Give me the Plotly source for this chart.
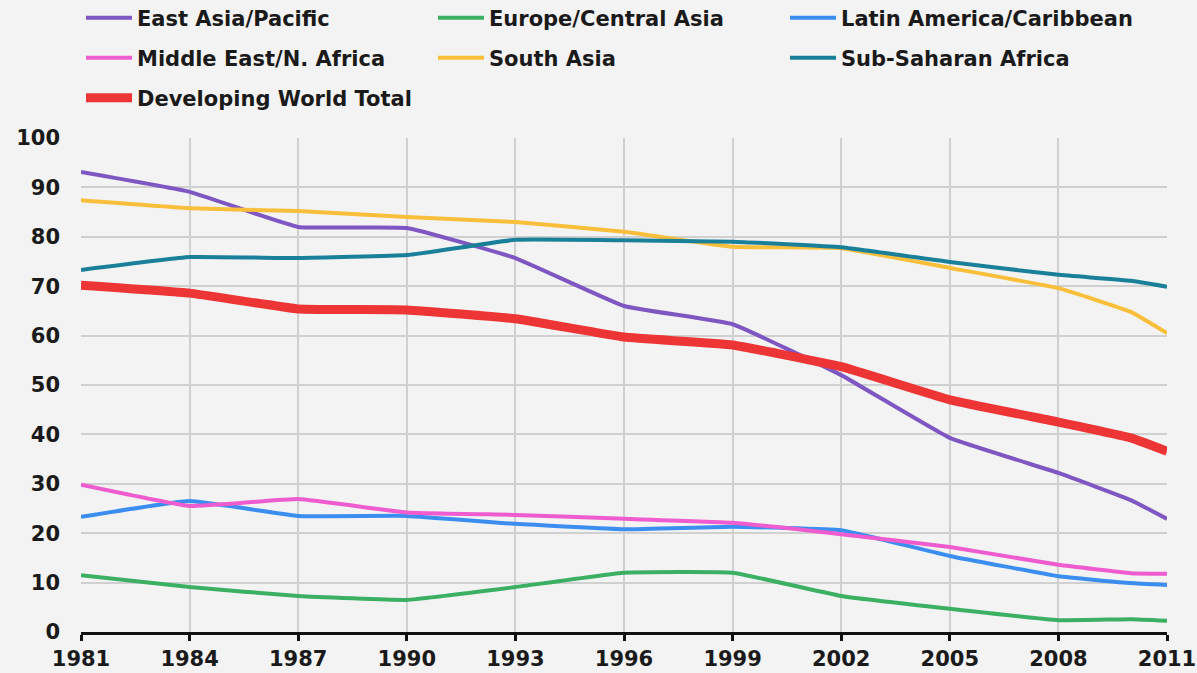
import plotly.graph_objects as go

years = [1981, 1984, 1987, 1990, 1993, 1996, 1999, 2002, 2005, 2008, 2010, 2011]

east_asia = [93.1, 89.1, 82.0, 81.8, 75.7, 66.0, 62.3, 52.0, 39.3, 32.2, 26.7, 22.9]
europe_central_asia = [11.5, 9.1, 7.3, 6.5, 9.1, 12.0, 12.0, 7.3, 4.7, 2.4, 2.6, 2.3]
latin_america = [23.3, 26.5, 23.5, 23.5, 21.9, 20.8, 21.3, 20.6, 15.4, 11.3, 9.9, 9.5]
middle_east = [29.8, 25.5, 26.9, 24.2, 23.7, 22.9, 22.1, 19.8, 17.2, 13.6, 11.9, 11.8]
south_asia = [87.4, 85.8, 85.2, 84.0, 83.0, 81.0, 78.0, 77.7, 73.7, 69.6, 64.8, 60.5]
sub_saharan = [73.3, 75.9, 75.7, 76.3, 79.4, 79.3, 79.0, 77.9, 74.9, 72.3, 71.1, 69.9]
developing_total = [70.2, 68.6, 65.4, 65.2, 63.4, 59.7, 58.1, 53.7, 47.0, 42.5, 39.3, 36.6]

x_ticks = [1981, 1984, 1987, 1990, 1993, 1996, 1999, 2002, 2005, 2008, 2011]
y_ticks = [0, 10, 20, 30, 40, 50, 60, 70, 80, 90, 100]

series = [
    ("East Asia/Pacific", east_asia, "#7e57c2", 4, "legend"),
    ("Europe/Central Asia", europe_central_asia, "#3cb062", 4, "legend"),
    ("Latin America/Caribbean", latin_america, "#3b8ef0", 4, "legend"),
    ("Middle East/N. Africa", middle_east, "#ee5ccf", 4, "legend2"),
    ("South Asia", south_asia, "#f9bf3b", 4, "legend2"),
    ("Sub-Saharan Africa", sub_saharan, "#1a8099", 4, "legend2"),
    ("Developing World Total", developing_total, "#ee3535", 9, "legend3"),
]

fig = go.Figure()
for name, vals, color, w, lg in series:
    fig.add_trace(go.Scatter(
        x=years, y=vals, name=name, mode="lines",
        line=dict(color=color, width=w, shape="spline", smoothing=0.3),
        legend=lg,
    ))

font_family = "'DejaVu Sans', Roboto, sans-serif"
text_color = "#1a1a1a"
fsize = 21
fweight = "bold"

plot_top = 138
plot_bottom = 632
plot_h = plot_bottom - plot_top

def ypaper(py):
    return (plot_bottom - py) / plot_h

legend_common = dict(
    orientation="h", xanchor="left", yanchor="middle",
    x=0.0, entrywidth=291, entrywidthmode="pixels",
    itemwidth=46, bgcolor="rgba(0,0,0,0)",
    font=dict(family=font_family, size=fsize, color=text_color, weight=fweight),
    itemclick=False, itemdoubleclick=False,
)

tick_font = dict(family=font_family, size=fsize, color=text_color, weight=fweight)

fig.update_layout(
    template="none",
    width=1197, height=673,
    margin=dict(l=81, r=30, t=138, b=41, autoexpand=False),
    paper_bgcolor="#f3f3f3",
    plot_bgcolor="#f3f3f3",
    font=dict(family=font_family, size=fsize, color=text_color, weight=fweight),
    showlegend=True,
    hovermode=False,
    legend=dict(legend_common, y=ypaper(18)),
    legend2=dict(legend_common, y=ypaper(58)),
    legend3=dict(legend_common, y=ypaper(98)),
    xaxis=dict(
        range=[1981, 2011], tickmode="array", tickvals=x_ticks,
        ticktext=[str(v) for v in x_ticks], automargin=False,
        showgrid=True, gridcolor="#d0d0d0", gridwidth=1.5,
        showline=True, linecolor="#111111", linewidth=3,
        ticks="outside", ticklen=6, tickwidth=3, tickcolor="#111111",
        zeroline=False, tickfont=tick_font,
    ),
    xaxis2=dict(
        range=[1981, 2011], overlaying="x", side="bottom", automargin=False,
        tickmode="array", tickvals=x_ticks, showticklabels=False,
        showgrid=False, showline=False, zeroline=False,
        ticks="inside", ticklen=6, tickwidth=3, tickcolor="#111111",
    ),
    yaxis=dict(
        range=[0, 100], tickmode="array", tickvals=y_ticks, automargin=False,
        showgrid=True, gridcolor="#d0d0d0", gridwidth=1.5,
        zeroline=False, showline=False, ticks="",
        ticklabelstandoff=20, tickfont=tick_font,
    ),
)

fig.write_html(
    "out.html",
    config={"displayModeBar": False},
    post_script="document.body.style.margin='0';document.body.style.background='#f3f3f3';",
)
